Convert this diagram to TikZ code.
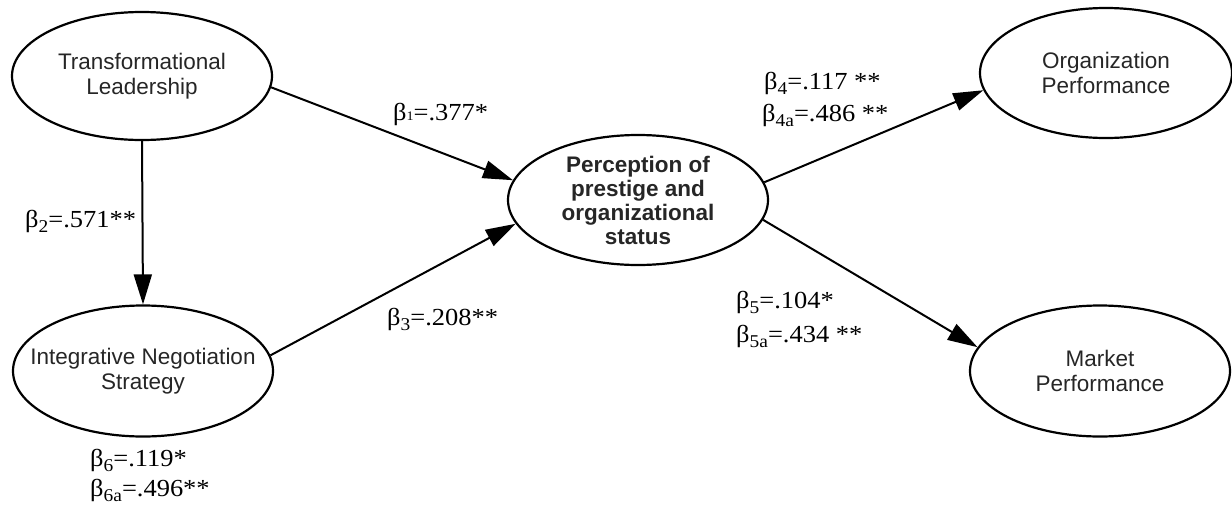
\documentclass[tikz,border=0pt]{standalone}
\usepackage{fontspec}
\setmainfont{Liberation Serif}
\setsansfont{Liberation Sans}
\usetikzlibrary{shapes.geometric,arrows.meta}
\newcommand\bsub[1]{\raisebox{-5pt}{\fontsize{18}{18}\selectfont #1}}
\newcommand\bsubsmall[1]{{\fontsize{13}{13}\selectfont #1}}
\newcommand\coeftext[1]{\scalebox{1.08}[1]{#1}}
\begin{document}
\begin{tikzpicture}[x=1pt,y=-1pt]
\tikzset{
  lat/.style={ellipse, draw, line width=2.2pt, inner xsep=-45pt, inner ysep=-12pt, align=center,
    text=black!85, font=\sffamily\fontsize{22.5}{25}\selectfont},
  arr/.style={line width=2pt, -{Triangle[length=30pt,width=18pt]}},
  coef/.style={anchor=base west, inner sep=0pt, font=\fontsize{24.5}{24.5}\selectfont}
}
\useasboundingbox (0,0) rectangle (1232,504);
% latent constructs
\node[lat, minimum width=260pt, minimum height=128pt] (tl) at (142,76) {Transformational\\Leadership};
\node[lat, minimum width=260pt, minimum height=131pt] (ins) at (143,371) {Integrative Negotiation\\Strategy};
\node[lat, minimum width=260pt, minimum height=130pt, font=\sffamily\bfseries\fontsize{22.5}{24}\selectfont] (per) at (638,200) {Perception of\\prestige and\\organizational\\status};
\node[lat, minimum width=252pt, minimum height=130pt] (org) at (1106,73) {Organization\\Performance};
\node[lat, minimum width=260pt, minimum height=131pt] (mkt) at (1100,371) {Market\\Performance};
% paths
\draw[arr] (tl.-5.3) -- (per.171.9);
\draw[arr] (tl.south) -- (ins.north);
\draw[arr] (ins.7.2) -- (per.-169.2);
\draw[arr] (per.8.9) -- (org.-172.3);
\draw[arr] (per.-9.8) -- (mkt.169);
% coefficients
\node[coef] (b1) at (393,120) {\coeftext{β\bsubsmall{1}=.377*}};
\node[coef] (b2) at (25,227) {\coeftext{β\bsub{2}=.571**}};
\node[coef] (b3) at (387,325) {\coeftext{β\bsub{3}=.208**}};
\node[coef] (b4) at (764,89) {\coeftext{β\bsub{4}=.117 **}};
\node[coef] (b4a) at (762,121) {\coeftext{β\bsub{4a}=.486 **}};
\node[coef] (b5) at (736,308) {\coeftext{β\bsub{5}=.104*}};
\node[coef] (b5a) at (736,342) {\coeftext{β\bsub{5a}=.434 **}};
\node[coef] (b6) at (90,466) {\coeftext{β\bsub{6}=.119*}};
\node[coef] (b6a) at (90,496) {\coeftext{β\bsub{6a}=.496**}};
\end{tikzpicture}
\end{document}
